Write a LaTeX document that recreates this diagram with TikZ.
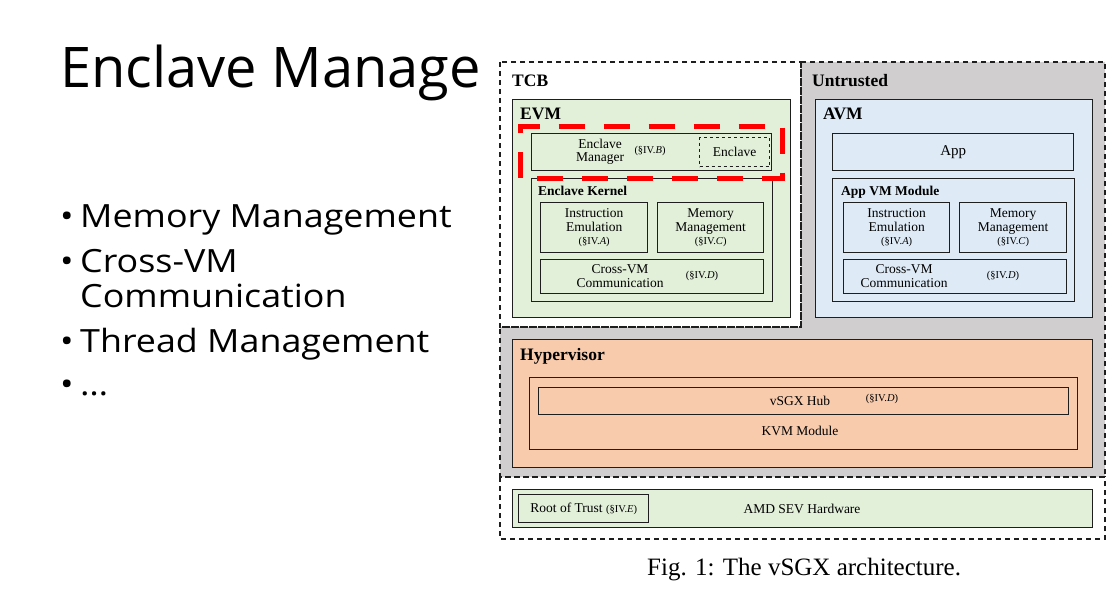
\documentclass[tikz,border=0pt]{standalone}
\usepackage{fontspec}
\setmainfont{Liberation Serif}
\newfontfamily\slidefont{Open Sans}
\newfontfamily\bulletfont[FakeStretch=1.12]{Open Sans}
\usetikzlibrary{positioning}

\definecolor{tcbgreen}{HTML}{E2EFD9}
\definecolor{avmblue}{HTML}{DEEBF7}
\definecolor{hvorange}{HTML}{F8CBAD}
\definecolor{untrustgray}{HTML}{D0CECE}
\definecolor{boxline}{HTML}{1E1E1E}
\definecolor{markred}{HTML}{FF0000}

\tikzset{
  box/.style={draw=boxline, line width=1.4pt, inner sep=0pt, anchor=north west},
  zone/.style={draw=boxline, line width=1.3pt, dash pattern=on 5pt off 4pt},
  txt/.style={font=\fontsize{13.5}{13.5}\selectfont, align=center, inner sep=0pt},
  sref/.style={font=\fontsize{10.5}{12}\selectfont, inner sep=0pt},
  bighead/.style={font=\bfseries\fontsize{17.5}{18}\selectfont, anchor=base west, inner sep=0pt},
  subhead/.style={font=\bfseries\fontsize{13.5}{14}\selectfont, anchor=base west, inner sep=0pt},
  slide/.style={font=\bulletfont\fontsize{32}{32}\selectfont, anchor=base west, inner sep=0pt},
}
\newcommand{\secref}[1]{{\fontsize{10.5}{12}\selectfont(\S IV.\textit{#1})}}

\begin{document}
\begin{tikzpicture}[x=1pt,y=-1pt]

\useasboundingbox (0,0) rectangle (1117,610);

% Slide text
\node[slide, font=\slidefont\fontsize{56}{56}\selectfont] (title) at (60,88) {Enclave Manage};
\node[slide] (b1) at (60,227) {•};
\node[slide] (t1) at (80,227) {Memory Management};
\node[slide] (b2) at (60,272) {•};
\node[slide] (t2) at (80,272) {Cross-VM};
\node[slide] (t2b) at (80,307) {Communication};
\node[slide] (b3) at (60,352) {•};
\node[slide] (t3) at (80,352) {Thread Management};
\node[slide] (b4) at (60,395) {•};
\node[slide] (t4) at (80,395) {…};

% Zones
\fill[untrustgray] (801,62) -- (1105,62) -- (1105,477) -- (500,477) -- (500,327) -- (801,327) -- cycle;
\draw[zone] (801,62) -- (1105,62) -- (1105,477) -- (500,477) -- (500,327) -- (801,327) -- cycle;
\draw[zone] (500,62) rectangle (801,327);
\draw[zone] (500,477) rectangle (1105,539);

\node[bighead] (tcb) at (512,87) {TCB};
\node[bighead] (untr) at (812,87) {Untrusted};

% EVM
\node[box, fill=tcbgreen, minimum width=278pt, minimum height=218pt] (evm) at (512,99) {};
\node[bighead] (evml) at (520,120) {EVM};
\node[box, minimum width=240pt, minimum height=37pt] (em) at (531,133) {};
\node[txt] (eml) at (600,152) {Enclave\\Manager};
\node[sref] (emr) at (650,151) {\secref{B}};
\node[box, dashed, line width=1.2pt, minimum width=70pt, minimum height=29pt, txt] (encl) at (699,137) {Enclave};
\node[box, minimum width=241pt, minimum height=123pt] (ek) at (531,178) {};
\node[subhead] (ekl) at (538,195) {Enclave Kernel};
\node[box, txt, minimum width=107pt, minimum height=50pt] (ie1) at (540,202) {Instruction\\Emulation\\\secref{A}};
\node[box, txt, minimum width=106pt, minimum height=50pt] (mm1) at (657,202) {Memory\\Management\\\secref{C}};
\node[box, minimum width=223pt, minimum height=34pt] (cv1) at (540,259) {};
\node[txt] (cv1l) at (620,276) {Cross-VM\\Communication};
\node[sref] (cv1r) at (702,276) {\secref{D}};

% AVM
\node[box, fill=avmblue, minimum width=277pt, minimum height=218pt] (avm) at (815,99) {};
\node[bighead] (avml) at (823,120) {AVM};
\node[box, txt, font=\fontsize{15}{15}\selectfont, minimum width=241pt, minimum height=37pt] (app) at (832,133) {App};
\node[box, minimum width=242pt, minimum height=123pt] (avmm) at (832,178) {};
\node[subhead] (avmml) at (841,195) {App VM Module};
\node[box, txt, minimum width=106pt, minimum height=50pt] (ie2) at (843,202) {Instruction\\Emulation\\\secref{A}};
\node[box, txt, minimum width=107pt, minimum height=50pt] (mm2) at (959,202) {Memory\\Management\\\secref{C}};
\node[box, minimum width=223pt, minimum height=34pt] (cv2) at (843,259) {};
\node[txt] (cv2l) at (904,276) {Cross-VM\\Communication};
\node[sref] (cv2r) at (1003,276) {\secref{D}};

% Hypervisor
\node[box, fill=hvorange, minimum width=580pt, minimum height=128pt] (hv) at (512,339) {};
\node[bighead] (hvl) at (520,360) {Hypervisor};
\node[box, minimum width=548pt, minimum height=72pt] (kvm) at (529,377) {};
\node[box, minimum width=530pt, minimum height=27pt] (hub) at (538,387) {};
\node[txt] (hubl) at (800,401) {vSGX Hub};
\node[sref] (hubr) at (882,399) {\secref{D}};
\node[txt] (kvml) at (800,431) {KVM Module};

% Hardware
\node[box, fill=tcbgreen, minimum width=580pt, minimum height=38pt] (hw) at (512,489) {};
\node[txt] (hwl) at (802,509) {AMD SEV Hardware};
\node[box, txt, minimum width=130pt, minimum height=28pt] (rot) at (518,494) {Root of Trust \secref{E}};

% Highlight
\draw[markred, line width=5pt, dash pattern=on 26pt off 19pt] (520,178) -- (520,126.5) -- (782.5,126.5) -- (782.5,178) -- cycle;

% Caption
\node[anchor=base west, inner sep=0pt, font=\fontsize{25}{25}\selectfont] (cap) at (647,575) {Fig. 1: The vSGX architecture.};

\end{tikzpicture}
\end{document}
